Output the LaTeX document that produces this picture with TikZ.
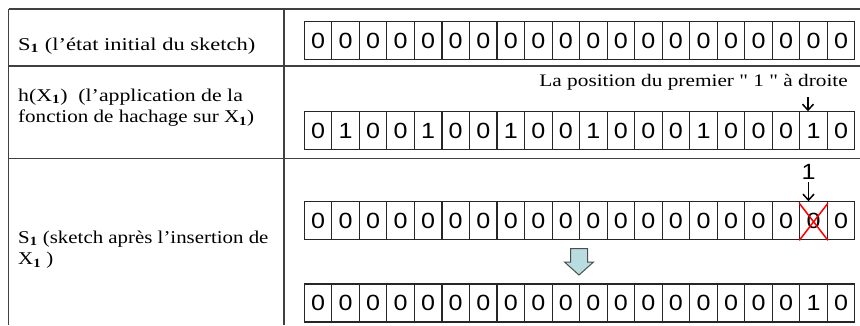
\documentclass[tikz,border=0pt]{standalone}
\usepackage{fontspec}
\setmainfont{Liberation Serif}
\newfontfamily\digitfont{Liberation Sans}
\usepackage{graphicx}
\usetikzlibrary{arrows.meta}
\newcommand\sx[2][1.14]{\scalebox{#1}[1]{#2}}
\newcommand\subone{\textsubscript{\textbf{1}}}
\definecolor{tablegray}{HTML}{404040}
\definecolor{arrowfill}{HTML}{B7DDE0}
\definecolor{arrowline}{HTML}{4D4D4D}
\begin{document}
\begin{tikzpicture}[x=1pt,y=-1pt,
  tableline/.style={draw=tablegray,line width=1.3pt},
  cellbox/.style={draw=black!85,line width=1.1pt,minimum width=27.53pt,minimum height=38pt,inner sep=0pt,font=\digitfont\fontsize{22}{22}\selectfont},
  lefttext/.style={anchor=base west,inner sep=0pt,font=\fontsize{18}{21.5}\selectfont},
  digitlabel/.style={inner sep=0pt,font=\digitfont\fontsize{22}{22}\selectfont},
  pointer/.style={-{Straight Barb[length=6pt,width=11pt]},line width=1.5pt},
  crossline/.style={draw=red,line width=1.5pt},
  bigarrow/.style={fill=arrowfill,draw=arrowline,line width=1pt}]
\useasboundingbox (0,0) rectangle (860,325);

% table grid
\draw[tableline] (8.5,9) -- (860,9);
\draw[tableline] (8.5,66) -- (860,66);
\draw[tableline] (8.5,158.5) -- (860,158.5);
\draw[tableline] (8.5,9) -- (8.5,325);
\draw[tableline] (284,9) -- (284,325);

% left column texts
\node[lefttext] (t1) at (18,50) {\sx[1.25]{S\subone{} (l’état initial du sketch)}};
\node[lefttext] (t2a) at (18,101) {\sx[1.21]{h(X\subone)\ \ (l’application de la}};
\node[lefttext] (t2b) at (18,122.7) {\sx[1.17]{fonction de hachage sur X\subone)}};
\node[lefttext] (t3a) at (18,243) {\sx[1.16]{S\subone{} (sketch après l’insertion de}};
\node[lefttext] (t3b) at (18,264.5) {\sx[1.16]{X\subone{} )}};

% cell rows
\foreach \d [count=\i] in {0,0,0,0,0,0,0,0,0,0,0,0,0,0,0,0,0,0,0,0}
  \node[cellbox] (ra\i) at ({304.3+27.53*(\i-0.5)},40.7) {\sx{\d}};
\foreach \d [count=\i] in {0,1,0,0,1,0,0,1,0,0,1,0,0,0,1,0,0,0,1,0}
  \node[cellbox] (rb\i) at ({304.3+27.53*(\i-0.5)},130.8) {\sx{\d}};
\foreach \d [count=\i] in {0,0,0,0,0,0,0,0,0,0,0,0,0,0,0,0,0,0,0,0}
  \node[cellbox] (rc\i) at ({304.3+27.53*(\i-0.5)},220.8) {\sx{\d}};
\foreach \d [count=\i] in {0,0,0,0,0,0,0,0,0,0,0,0,0,0,0,0,0,0,1,0}
  \node[cellbox] (rd\i) at ({304.3+27.53*(\i-0.5)},303) {\sx{\d}};

% label and pointer, row 2
\node[anchor=base east,inner sep=0pt,font=\fontsize{17.6}{20}\selectfont] (pos) at (848,86.3) {\sx[1.21]{La position du premier \textquotedbl{} 1 \textquotedbl{} à droite}};
\coordinate (p2) at (808,97);
\draw[pointer] (p2) -- (p2 |- rb19.north);

% "1" and pointer, row 3
\node[digitlabel] (one) at (808.5,171.5) {\sx{1}};
\draw[pointer] ([yshift=-3pt]one.south) -- (one.south |- rc19.north);

% red cross
\draw[crossline] ([yshift=-2pt]rc19.north west) -- (rc19.south east);
\draw[crossline] ([yshift=-2pt]rc19.north east) -- (rc19.south west);

% block arrow
\draw[bigarrow] (570.5,248.5) -- (587.5,248.5) -- (587.5,262) -- (593.5,262)
  -- (579,275) -- (564.5,262) -- (570.5,262) -- cycle;
\end{tikzpicture}
\end{document}
